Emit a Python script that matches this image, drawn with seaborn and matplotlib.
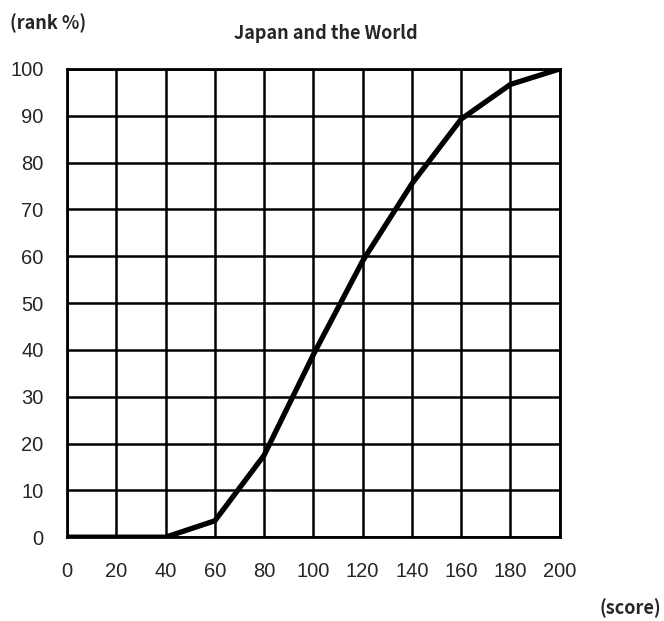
import pandas as pd
import matplotlib.pyplot as plt
import seaborn as sns

score = [0, 20, 40, 60, 80, 100, 120, 140, 160, 180, 200]
rank = [0, 0, 0, 3.5, 17.5, 39, 59, 75.5, 89.3, 96.7, 100]

df = pd.DataFrame({"score": score, "rank": rank})

sns.set_style("white")
plt.rcParams['font.family'] = ['Liberation Sans', 'DejaVu Sans']

fig = plt.figure(figsize=(6.64, 6.21), dpi=100)
ax = fig.add_axes([0.101, 0.135, 0.742, 0.754])

sns.lineplot(data=df, x="score", y="rank", color="black", linewidth=3.8, ax=ax, zorder=5)

ax.set_xlim(0, 200)
ax.set_ylim(0, 100)
ax.set_xticks(range(0, 201, 20))
ax.set_yticks(range(0, 101, 10))
ax.grid(True, color="black", linewidth=1.8)
for s in ax.spines.values():
    s.set_color("black")
    s.set_linewidth(2)
ax.tick_params(length=0, labelsize=14.5)
ax.tick_params(axis="x", pad=18)
ax.tick_params(axis="y", pad=17)
ax.set_xlabel("")
ax.set_ylabel("")

fig.text(0.015, 0.962, "(rank %)", fontsize=13, fontweight="bold",
         family=['Noto Sans CJK JP', 'DejaVu Sans'], va="center")
fig.text(0.49, 0.946, "Japan and the World", fontsize=13, fontweight="bold",
         family=['Noto Sans CJK JP', 'DejaVu Sans'], ha="center", va="center")
fig.text(0.995, 0.02, "(score)", fontsize=13, fontweight="bold",
         family=['Noto Sans CJK JP', 'DejaVu Sans'], ha="right", va="center")

fig.savefig("out.png", dpi=100)
